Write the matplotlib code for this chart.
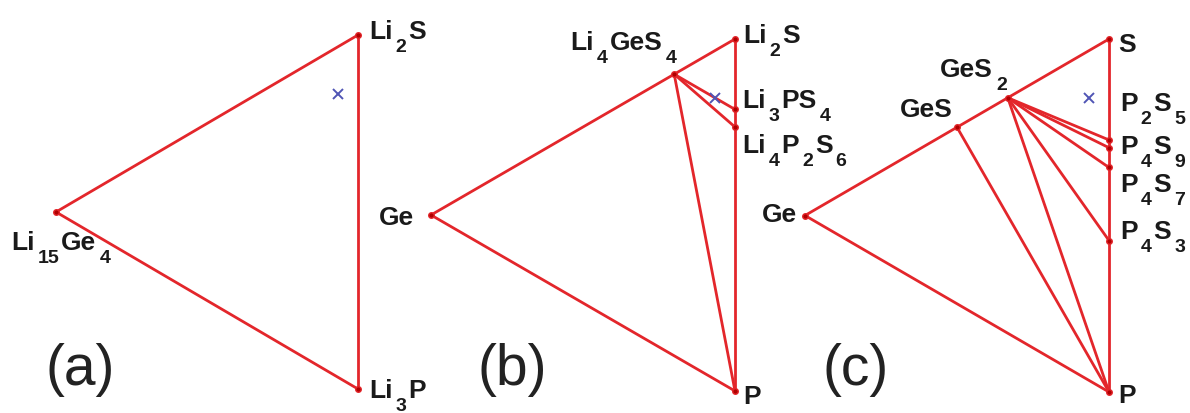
import re
import numpy as np
import matplotlib
matplotlib.use("Agg")
import matplotlib.pyplot as plt

plt.rcParams["font.family"] = ["Liberation Sans", "DejaVu Sans"]

# compositions as fractions of (top vertex, left vertex); bottom = rest
a_names = ["Li2S", "Li15Ge4", "Li3P"]
a_top = [1.0, 0.0, 0.0]
a_left = [0.0, 1.0, 0.0]
a_ties = [(0, 1), (1, 2), (2, 0)]

b_names = ["Li2S", "Li4GeS4", "Li3PS4", "Li4P2S6", "Ge", "P"]
b_top = [1.0, 0.8, 0.8, 0.75, 0.0, 0.0]
b_left = [0.0, 0.2, 0.0, 0.0, 1.0, 0.0]
b_ties = [(0, 1), (1, 4), (4, 5), (5, 3), (3, 2), (2, 0),
          (1, 2), (1, 3), (1, 5)]

c_names = ["S", "GeS2", "GeS", "Ge", "P2S5", "P4S9", "P4S7", "P4S3", "P"]
c_top = [1.0, 0.667, 0.5, 0.0, 0.714, 0.692, 0.636, 0.429, 0.0]
c_left = [0.0, 0.333, 0.5, 1.0, 0.0, 0.0, 0.0, 0.0, 0.0]
c_ties = [(0, 1), (1, 2), (2, 3), (3, 8), (8, 7), (7, 6), (6, 5), (5, 4), (4, 0),
          (2, 8), (1, 8), (1, 7), (1, 6), (1, 5), (1, 4)]

# composition of the target (blue cross), same in each panel
x_top = 0.80
x_left = 0.065

panel_tags = ["(a)", "(b)", "(c)"]

# label placement: (dx, dy) in pixels from the point to the baseline, alignment
a_lab = [((11, -3), "left"), ((-45, -37), "left"), ((11, -8), "left")]
b_lab = [((8, -3), "left"), ((2, 25), "right"), ((7, 2), "left"),
         ((7, -25), "left"), ((-17, -9), "right"), ((8, -12), "left")]
c_lab = [((9, -12), "left"), ((-1, 22), "right"), ((-4, 11), "right"),
         ((-8, -6), "right"), ((11, 30), "left"), ((11, -5), "left"),
         ((11, -24), "left"), ((11, 3), "left"), ((9, -10), "left")]

# axes boxes in pixels: left vertex x, right edge x, top y, bottom y
boxes = [(56, 358, 36, 390), (431, 735, 40, 392), (805, 1109, 40, 393)]
tag_x = [80, 512, 856]

RED = "#e3262b"
S3 = np.sqrt(3) / 2
FS, FS_SUB = 19, 14
DROP = 12


def to_xy(top, left):
    top = np.asarray(top)
    left = np.asarray(left)
    return -S3 * left, top + 0.5 * left


def formula(ax, text, xy, off):
    # chemical formula with low subscripts, drawn piece by piece
    pieces = []
    prev = None
    for main, sub in re.findall(r"([A-Za-z]+)(\d*)", text):
        if prev is None:
            t = ax.annotate(main, xy, xytext=off, textcoords="offset pixels",
                            ha="left", va="baseline", fontsize=FS,
                            weight="bold", color="#1a1a1a")
        else:
            t = ax.annotate(main, (1, 0), xycoords=prev, xytext=(2, DROP),
                            textcoords="offset pixels", ha="left", va="bottom",
                            fontsize=FS, weight="bold", color="#1a1a1a")
        pieces.append(t)
        prev = t
        if sub:
            t = ax.annotate(sub, (1, 0), xycoords=prev, xytext=(3, -DROP),
                            textcoords="offset pixels", ha="left", va="bottom",
                            fontsize=FS_SUB, weight="bold", color="#1a1a1a")
            pieces.append(t)
            prev = t
    return pieces


W, H = 1190, 414
fig = plt.figure(figsize=(W / 100, H / 100), dpi=100)

panels = [(a_names, a_top, a_left, a_ties, a_lab),
          (b_names, b_top, b_left, b_ties, b_lab),
          (c_names, c_top, c_left, c_ties, c_lab)]

right_labels = []
for i, (names, top, left, ties, lab) in enumerate(panels):
    x0, x1, y0, y1 = boxes[i]
    ax = fig.add_axes([x0 / W, 1 - y1 / H, (x1 - x0) / W, (y1 - y0) / H])
    ax.set_xlim(-S3, 0)
    ax.set_ylim(0, 1)
    ax.axis("off")
    xs, ys = to_xy(top, left)
    for p, q in ties:
        ax.plot([xs[p], xs[q]], [ys[p], ys[q]], color=RED, lw=2.0,
                solid_capstyle="round", clip_on=False, zorder=2)
    ax.plot(xs, ys, "o", ms=4, mfc="#b00000", mec=RED, mew=1.0,
            clip_on=False, zorder=3)
    cx, cy = to_xy(x_top, x_left)
    ax.plot([cx], [cy], "x", ms=6.5, mew=1.4, color="#5055b5",
            clip_on=False, zorder=4)
    for k, name in enumerate(names):
        off, ha = lab[k]
        pieces = formula(ax, name, (xs[k], ys[k]), off)
        if ha == "right":
            right_labels.append((pieces, off))
    fig.text(tag_x[i] / W, 1 - 370 / H, panel_tags[i], ha="center",
             va="center", fontsize=41, color="#222222")

# shift right-aligned labels so that they end at the anchor
renderer = fig.canvas.get_renderer()
for pieces, (dx, dy) in right_labels:
    x_start = pieces[0].get_window_extent(renderer).x0
    x_end = pieces[-1].get_window_extent(renderer).x1
    pieces[0].xyann = (dx - (x_end - x_start), dy)

fig.savefig("out.png", dpi=100)
